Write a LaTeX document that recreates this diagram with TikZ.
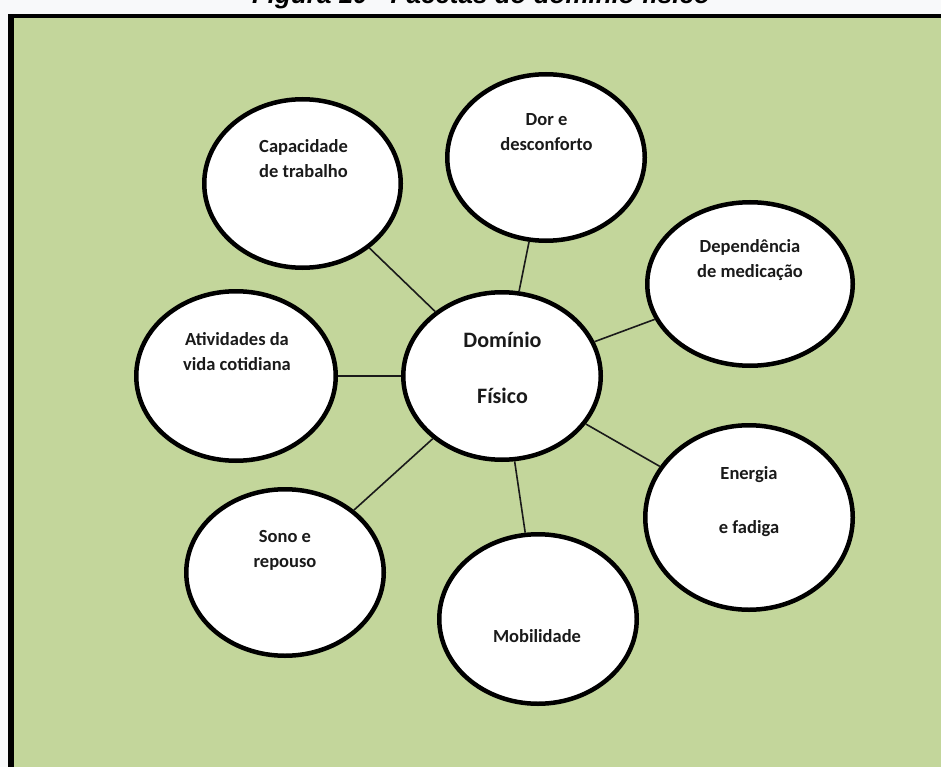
\documentclass[tikz,border=0pt]{standalone}
\usepackage{fontspec}
\setmainfont{Carlito}
\newfontfamily\headfont{Liberation Sans}
\usetikzlibrary{shapes.geometric}
\definecolor{leaf}{HTML}{C3D69B}
\definecolor{paper}{HTML}{F8F9FA}
\definecolor{ink}{HTML}{1A1A1A}

\begin{document}
\begin{tikzpicture}[x=1pt,y=-1pt,
  bubble/.style 2 args={ellipse, draw=black, fill=white, line width=4.5pt,
    minimum width=#1pt, minimum height=#2pt, inner sep=0pt},
  % captions are placed by the baseline of their last line
  caption/.style={font=\bfseries\fontsize{18.5}{25}\selectfont, text=ink,
    align=center, anchor=base, inner sep=0pt},
  link/.style={draw=ink, line width=1.6pt}]

\useasboundingbox (0,0) rectangle (941,767);
\clip (0,0) rectangle (941,767);

% page and framed panel
\fill[paper] (0,0) rectangle (941,767);
\node[font=\headfont\bfseries\itshape\fontsize{26}{30}\selectfont, anchor=base,
  inner sep=0pt] (title) at (481,4) {Figura 10 - Facetas do domínio físico};
\fill[black] (8,14) rectangle (960,790);
\fill[leaf] (14,18) rectangle (960,790);

% bubbles
\node[bubble={197.5}{167.5}] (dom) at (502,376) {};
\node[bubble={196.5}{168.5}] (cap) at (302.5,183.5) {};
\node[bubble={197.5}{166.5}] (dor) at (546,157.5) {};
\node[bubble={205.5}{163.5}] (dep) at (750,284) {};
\node[bubble={199.5}{169.5}] (ati) at (236,376) {};
\node[bubble={207.5}{184.5}] (ene) at (749,517.5) {};
\node[bubble={197.5}{166.5}] (son) at (285,572.5) {};
\node[bubble={197.5}{169.5}] (mob) at (538,619) {};

% spokes from the centre bubble
\foreach \n in {cap,dor,dep,ati,ene,son,mob}
  \draw[link] (dom) -- (\n);

% captions
\node[caption, font=\bfseries\fontsize{22}{27}\selectfont] (domT) at (502.5,403)
  {Domínio\\[29pt]Físico};
\node[caption] (capT) at (303.5,178) {Capacidade\\de trabalho};
\node[caption] (dorT) at (546.5,151) {Dor e\\desconforto};
\node[caption] (depT) at (750,277) {Dependência\\de medicação};
\node[caption] (atiT) at (237,370) {Atividades da\\vida cotidiana};
\node[caption] (eneT) at (749,533) {Energia\\[29pt]e fadiga};
\node[caption] (sonT) at (285,567) {Sono e\\repouso};
\node[caption] (mobT) at (537,642) {Mobilidade};
\end{tikzpicture}
\end{document}
